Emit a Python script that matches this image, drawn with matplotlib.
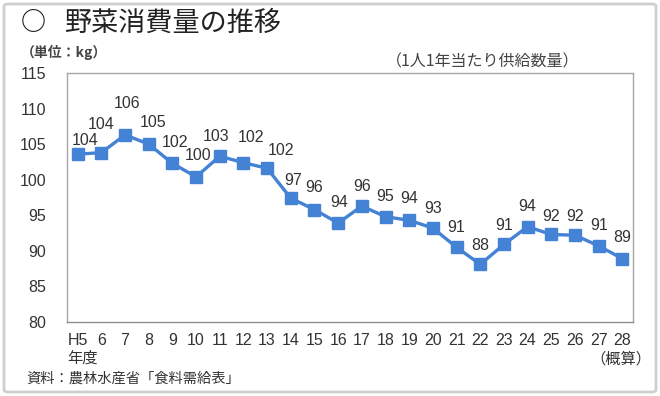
"""
野菜消費量の推移（1人1年当たり供給数量）
out.png に保存
"""
import matplotlib
matplotlib.use("Agg")
import matplotlib.pyplot as plt
import matplotlib.patches as mpatches

plt.rcParams["font.family"] = ["Liberation Sans", "Noto Sans CJK JP", "DejaVu Sans"]

# ── データ ───────────────────────────────────────────────────────────
YEARS = ["H5", "6", "7", "8", "9", "10", "11", "12", "13", "14", "15", "16",
         "17", "18", "19", "20", "21", "22", "23", "24", "25", "26", "27", "28"]
VALUES = [103.6, 103.8, 106.3, 105.0, 102.3, 100.4, 103.3, 102.4, 101.6, 97.4,
          95.8, 93.9, 96.3, 94.8, 94.3, 93.2, 90.5, 88.1, 90.9, 93.4, 92.3,
          92.2, 90.7, 88.9]
LABELS = ["104", "104", "106", "105", "102", "100", "103", "102", "102", "97",
          "96", "94", "96", "95", "94", "93", "91", "88", "91", "94", "92",
          "92", "91", "89"]
YTICKS = [80, 85, 90, 95, 100, 105, 110, 115]

# ラベルのずらし量（ピクセル）
LBL_OFF = [(7, 14), (0, 28), (2, 31), (4, 22), (3, 21), (2, 21), (-4, 20),
           (8, 25), (14, 18), (2, 18), (0, 22), (1, 21), (0, 20), (0, 20),
           (0, 22), (0, 20), (0, 20), (0, 19), (0, 19), (0, 20), (0, 18),
           (0, 19), (0, 20), (0, 21)]

BLUE = "#4382d4"
TXT = "#333333"
JP = ["Noto Sans CJK JP"]
W, H = 660, 396

fig = plt.figure(figsize=(6.6, 3.96), dpi=100)
fig.patch.set_facecolor("white")

# 外枠
fig.patches.append(mpatches.FancyBboxPatch(
    (4 / W, 4 / H), 652 / W, 388 / H, boxstyle="round,pad=0,rounding_size=0.006",
    transform=fig.transFigure, fc="none", ec="#cfcfcf", lw=2))

ax = fig.add_axes([67 / W, 1 - 322 / H, 566 / W, 249 / H])
x = list(range(len(YEARS)))
ax.plot(x, VALUES, color=BLUE, lw=2.4, marker="s", ms=8.2,
        mfc=BLUE, mec=BLUE, zorder=3)

for xi, v, lbl, (dx, dy) in zip(x, VALUES, LABELS, LBL_OFF):
    ax.annotate(lbl, (xi, v), xytext=(dx, dy), textcoords="offset pixels",
                ha="center", va="center", fontsize=11.5, color=TXT)

ax.set_xlim(-0.45, len(YEARS) - 0.55)
ax.set_ylim(80, 115)
ax.set_yticks(YTICKS)
ax.set_xticks(x)
ax.set_xticklabels(YEARS)
ax.tick_params(length=0, labelsize=11.5, labelcolor=TXT)
ax.tick_params(axis="y", pad=15)
ax.tick_params(axis="x", pad=8)
for s in ax.spines.values():
    s.set_color("#a6a6a6")
    s.set_linewidth(1.0)
ax.spines["bottom"].set_color("#8c8c8c")

# テキスト
fig.text(21 / W, 1 - 23 / H, "○", fontsize=18, color="#222222",
         ha="left", va="center", family=JP, fontweight="bold")
fig.text(64 / W, 1 - 23 / H, "野菜消費量の推移", fontsize=19.5, color="#222222",
         ha="left", va="center", family=JP)
fig.text(21 / W, 1 - 52 / H, "（単位：kg）", fontsize=10, color="#444444",
         ha="left", va="center", fontweight="bold", family=JP)
fig.text(483 / W, 1 - 62 / H, "（1人1年当たり供給数量）", fontsize=11.5,
         color="#444444", ha="center", va="center", family=JP)
fig.text(82 / W, 1 - 358 / H, "年度", fontsize=11, color=TXT,
         ha="center", va="center", family=JP)
fig.text(621 / W, 1 - 359 / H, "（概算）", fontsize=11, color=TXT,
         ha="center", va="center", family=JP)
fig.text(26 / W, 1 - 379 / H, "資料：農林水産省「食料需給表」", fontsize=10.3,
         color=TXT, ha="left", va="center", family=JP)

fig.savefig("out.png", dpi=100, facecolor="white")
plt.close(fig)
